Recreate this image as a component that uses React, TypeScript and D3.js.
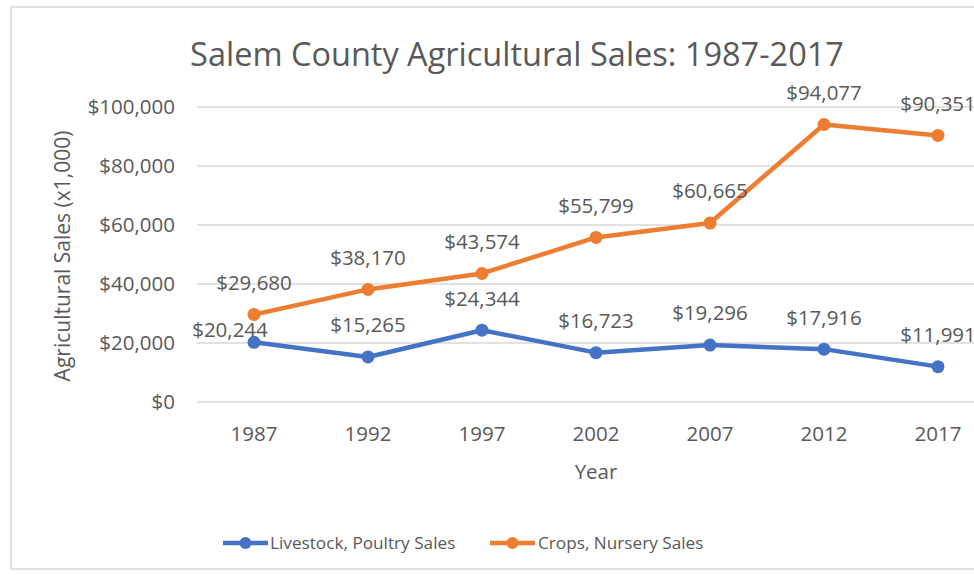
import React from "react";
import * as d3 from "d3";

const years = ["1987", "1992", "1997", "2002", "2007", "2012", "2017"];
const livestock = [20244, 15265, 24344, 16723, 19296, 17916, 11991];
const crops = [29680, 38170, 43574, 55799, 60665, 94077, 90351];
const yTicks = [0, 20000, 40000, 60000, 80000, 100000];
const seriesNames = ["Livestock, Poultry Sales", "Crops, Nursery Sales"];
const title = "Salem County Agricultural Sales: 1987-2017";
const yTitle = "Agricultural Sales (x1,000)";
const xTitle = "Year";

const W = 974;
const H = 575;
const FONT = "'Open Sans', sans-serif";
const TXT = "#595959";
const BLUE = "#4472C4";
const ORANGE = "#ED7D31";

export default function App() {
  const x = d3.scaleBand<string>().domain(years).range([197, 995]).paddingInner(0).paddingOuter(0);
  const y = d3.scaleLinear().domain([0, 100000]).range([402, 107]);
  const cx = (yr: string) => (x(yr) as number) + x.bandwidth() / 2;
  const fmt = (v: number) => "$" + d3.format(",")(v);
  const line = d3
    .line<number>()
    .x((_, i) => cx(years[i]))
    .y((v) => y(v));

  const series = [
    { name: seriesNames[0], values: livestock, color: BLUE },
    { name: seriesNames[1], values: crops, color: ORANGE },
  ];

  const labelOffset = (si: number, i: number) => {
    if (si === 0 && i === 0) return { dx: -24, dy: -13 };
    return { dx: 0, dy: -32 };
  };

  const legendItems = [
    { x0: 223, x1: 268, tx: 270 },
    { x0: 490, x1: 535, tx: 538 },
  ];

  return (
    <svg
      width={W}
      height={H}
      style={{ position: "fixed", left: 0, top: 0, background: "#fff" }}
      fontFamily={FONT}
    >
      <rect x={0} y={0} width={W} height={H} fill="#fff" />
      <rect x={11} y={7} width={1010} height={562} fill="#fff" stroke="#d9d9d9" strokeWidth={1.5} />

      <text x={517} y={66} textAnchor="middle" fontSize={32.5} fill={TXT}>
        {title}
      </text>

      {yTicks.map((t) => (
        <g key={t}>
          <line x1={197} x2={995} y1={y(t)} y2={y(t)} stroke="#d9d9d9" strokeWidth={1.3} />
          <text x={175} y={y(t)} dy="0.36em" textAnchor="end" fontSize={20.5} fill={TXT}>
            {fmt(t)}
          </text>
        </g>
      ))}

      {years.map((yr) => (
        <text key={yr} x={cx(yr)} y={434} dy="0.36em" textAnchor="middle" fontSize={20.5} fill={TXT}>
          {yr}
        </text>
      ))}

      <text
        transform={`translate(62, 256) rotate(-90)`}
        textAnchor="middle"
        dy="0.36em"
        fontSize={21}
        fill={TXT}
      >
        {yTitle}
      </text>
      <text x={596} y={472} dy="0.36em" textAnchor="middle" fontSize={20.5} fill={TXT}>
        {xTitle}
      </text>

      {series.map((s) => (
        <g key={s.name}>
          <path d={line(s.values) || ""} fill="none" stroke={s.color} strokeWidth={4.5} strokeLinejoin="round" strokeLinecap="round" />
          {s.values.map((v, i) => (
            <circle key={i} cx={cx(years[i])} cy={y(v)} r={6.5} fill={s.color} />
          ))}
        </g>
      ))}

      {series.map((s, si) =>
        s.values.map((v, i) => {
          const o = labelOffset(si, i);
          return (
            <text
              key={s.name + i}
              x={cx(years[i]) + o.dx}
              y={y(v) + o.dy}
              dy="0.36em"
              textAnchor="middle"
              fontSize={20.5}
              fill={TXT}
            >
              {fmt(v)}
            </text>
          );
        })
      )}

      {series.map((s, si) => {
        const L = legendItems[si];
        return (
          <g key={"leg" + si}>
            <line x1={L.x0} x2={L.x1} y1={543} y2={543} stroke={s.color} strokeWidth={4.5} />
            <circle cx={(L.x0 + L.x1) / 2} cy={543} r={6} fill={s.color} />
            <text x={L.tx} y={543} dy="0.36em" fontSize={17.2} fill={TXT}>
              {s.name}
            </text>
          </g>
        );
      })}
    </svg>
  );
}
